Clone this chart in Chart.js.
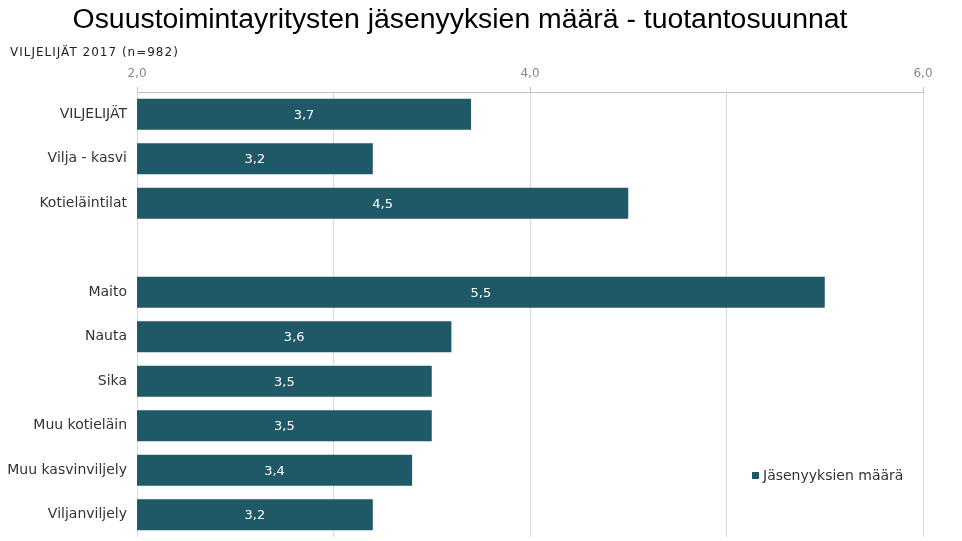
<!DOCTYPE html>
<html>
<head>
<meta charset="utf-8">
<script src="https://cdn.jsdelivr.net/npm/chart.js@4/dist/chart.umd.min.js"></script>
<style>
  html, body { margin: 0; padding: 0; background: #fff; }
  #wrap { width: 962px; height: 541px; }
</style>
</head>
<body>
<div id="wrap"><canvas id="chart"></canvas></div>
<script>
// Osuustoimintayritysten jäsenyyksien määrä - tuotantosuunnat

const categories = ['VILJELIJÄT', 'Vilja - kasvi', 'Kotieläintilat', '', 'Maito', 'Nauta', 'Sika', 'Muu kotieläin', 'Muu kasvinviljely', 'Viljanviljely'];
const memberships = [3.7, 3.2, 4.5, null, 5.5, 3.6, 3.5, 3.5, 3.4, 3.2];
const seriesLabel = 'Jäsenyyksien määrä';
const titleText = 'Osuustoimintayritysten jäsenyyksien määrä - tuotantosuunnat';
const subtitleText = 'VILJELIJÄT 2017 (n=982)';

const barColor = '#1f5866';
const textFont = '"DejaVu Sans", Verdana, sans-serif';

const fmt = v => v.toFixed(1).replace('.', ',');

// titles, value labels inside bars and the legend at bottom right
const decorations = {
  id: 'decorations',
  afterDatasetsDraw(chart) {
    const ctx = chart.ctx;
    const meta = chart.getDatasetMeta(0);
    const xScale = chart.scales.x;
    const left = xScale.getPixelForValue(xScale.min);
    ctx.save();
    ctx.fillStyle = '#ffffff';
    ctx.font = '13px ' + textFont;
    ctx.textAlign = 'center';
    ctx.textBaseline = 'middle';
    meta.data.forEach((bar, i) => {
      const v = memberships[i];
      if (v == null) return;
      ctx.fillText(fmt(v), (bar.x + left) / 2, bar.y + 1);
    });
    ctx.restore();
  },
  afterDraw(chart) {
    const ctx = chart.ctx;
    ctx.save();
    ctx.fillStyle = '#000';
    ctx.font = '28.4px "Liberation Sans", Arial, sans-serif';
    ctx.textAlign = 'center';
    ctx.textBaseline = 'middle';
    ctx.fillText(titleText, 460, 20);

    ctx.font = '12px ' + textFont;
    ctx.fillStyle = '#222';
    ctx.textAlign = 'left';
    ctx.letterSpacing = '1px';
    ctx.fillText(subtitleText, 10, 53);
    ctx.letterSpacing = '0px';

    // legend
    ctx.fillStyle = barColor;
    ctx.fillRect(752, 472, 7, 7);
    ctx.fillStyle = '#333';
    ctx.font = '14px ' + textFont;
    ctx.fillText(seriesLabel, 763, 476);
    ctx.restore();
  }
};

new Chart(document.getElementById('chart'), {
  type: 'bar',
  data: {
    labels: categories,
    datasets: [{
      label: seriesLabel,
      data: memberships,
      backgroundColor: barColor,
      borderWidth: 0,
      categoryPercentage: 1,
      barPercentage: 0.7,
    }],
  },
  options: {
    indexAxis: 'y',
    responsive: true,
    maintainAspectRatio: false,
    animation: false,
    layout: { padding: { top: 60, right: 39, bottom: 4, left: 0 } },
    plugins: {
      legend: { display: false },
      title: { display: false },
      tooltip: { enabled: false },
    },
    scales: {
      x: {
        position: 'top',
        min: 2,
        max: 6,
        ticks: {
          stepSize: 1,
          color: '#888',
          font: { family: textFont, size: 12 },
          padding: 6,
          callback: v => (v % 2 === 0 ? fmt(v) : ''),
        },
        grid: {
          color: '#d9d9d9',
          tickLength: 5,
          tickColor: c => (c.tick && c.tick.value % 2 === 0 ? '#c0c0c0' : 'rgba(0,0,0,0)'),
        },
        border: { display: true, color: '#c0c0c0' },
        afterFit: scale => { scale.height = 32; },
      },
      y: {
        ticks: {
          color: '#333',
          font: { family: textFont, size: 14, lineHeight: 0.5 },
          padding: 0,
        },
        grid: { display: false, drawTicks: true, tickLength: 10 },
        border: { display: false },
        afterFit: scale => { scale.width = 137; },
      },
    },
  },
  plugins: [decorations],
});
</script>
</body>
</html>
